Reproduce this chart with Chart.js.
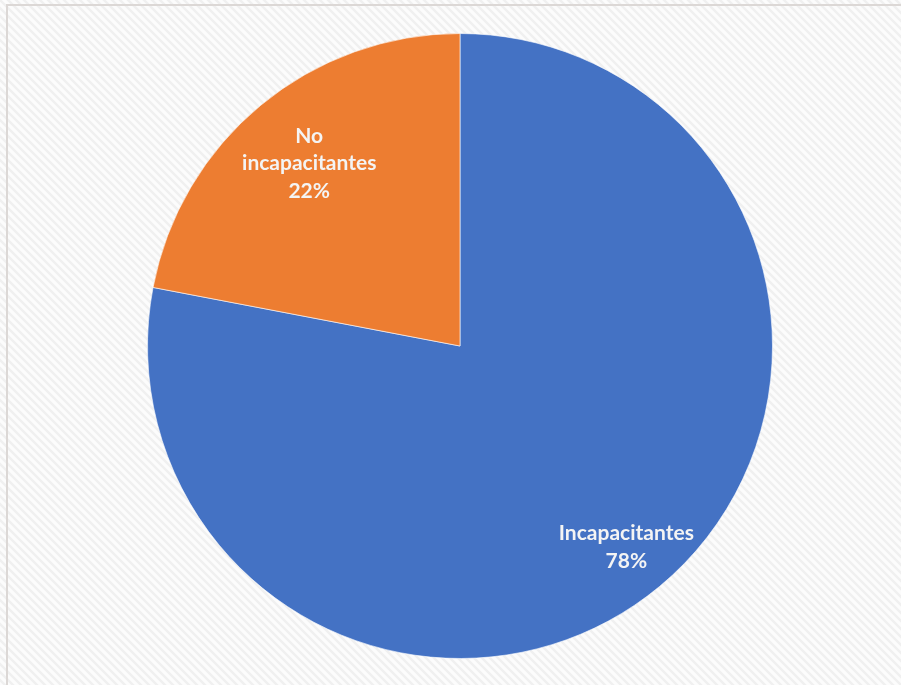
<!DOCTYPE html>
<html>
<head>
<meta charset="utf-8">
<script src="https://cdn.jsdelivr.net/npm/chart.js@4"></script>
<style>
  html, body { margin: 0; padding: 0; background: #ffffff; }
  #wrap { width: 901px; height: 685px; position: relative; }
</style>
</head>
<body>
<div id="wrap"><canvas id="pie"></canvas></div>
<script>
let labels = ["Incapacitantes", "No incapacitantes"];
let values = [78, 22];
let colors = ["#4472C4", "#ED7D31"];
// label lines as shown inside each slice
let labelLines = [["Incapacitantes", "78%"], ["No", "incapacitantes", "22%"]];

// striped grey background + frame line, like the picture
const backdrop = {
  id: 'backdrop',
  beforeDraw(chart) {
    const c = chart.ctx;
    const p = document.createElement('canvas');
    p.width = 8; p.height = 8;
    const pc = p.getContext('2d');
    pc.fillStyle = '#fcfcfc';
    pc.fillRect(0, 0, 8, 8);
    pc.strokeStyle = '#f0f0f0';
    pc.lineWidth = 2.5;
    pc.beginPath();
    pc.moveTo(0, 0); pc.lineTo(8, 8);
    pc.moveTo(-4, 4); pc.lineTo(4, 12);
    pc.moveTo(4, -4); pc.lineTo(12, 4);
    pc.stroke();
    c.save();
    c.fillStyle = c.createPattern(p, 'repeat');
    c.fillRect(0, 0, chart.width, chart.height);
    c.strokeStyle = '#dcd8d6';
    c.lineWidth = 2;
    c.beginPath();
    c.moveTo(7, chart.height);
    c.lineTo(7, 5);
    c.lineTo(chart.width, 5);
    c.stroke();
    c.restore();
  }
};

// text inside the slices
const sliceText = {
  id: 'sliceText',
  afterDatasetsDraw(chart, args, opts) {
    const c = chart.ctx;
    const meta = chart.getDatasetMeta(0);
    c.save();
    c.font = 'bold 21px Lato, "Open Sans", sans-serif';
    c.fillStyle = '#f4f4f4';
    c.textAlign = 'center';
    c.textBaseline = 'middle';
    meta.data.forEach((arc, i) => {
      const mid = (arc.startAngle + arc.endAngle) / 2;
      const r = arc.outerRadius * opts.dist[i];
      const x = arc.x + Math.cos(mid) * r;
      const y = arc.y + Math.sin(mid) * r;
      const lines = labelLines[i];
      const lh = 27.5;
      lines.forEach((t, k) => {
        c.fillText(t, x, y + (k - (lines.length - 1) / 2) * lh);
      });
    });
    c.restore();
  }
};

new Chart(document.getElementById('pie'), {
  type: 'pie',
  data: {
    labels: labels,
    datasets: [{
      data: values,
      backgroundColor: colors,
      borderColor: 'rgba(255,255,255,0.6)',
      borderWidth: 1
    }]
  },
  options: {
    responsive: true,
    maintainAspectRatio: false,
    animation: false,
    layout: { padding: { left: 147, right: 128, top: 33, bottom: 26 } },
    plugins: {
      legend: { display: false },
      tooltip: { enabled: false },
      sliceText: { dist: [0.835, 0.757] }
    }
  },
  plugins: [backdrop, sliceText]
});
</script>
</body>
</html>
